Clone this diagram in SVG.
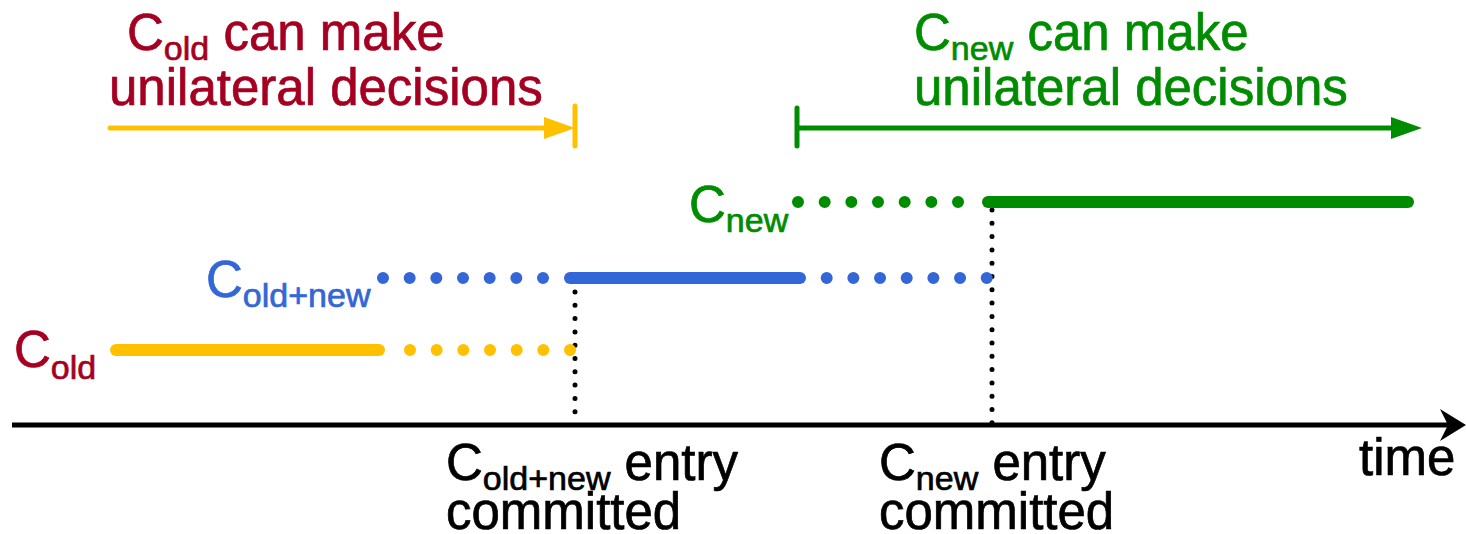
<svg xmlns="http://www.w3.org/2000/svg" width="1466" height="534" viewBox="0 0 1466 534">
<style>
text{font-family:"Liberation Sans",Arial,sans-serif;font-size:51px;stroke-width:0.7}
.sub{font-size:34px}
.red{fill:#A50021;stroke:#A50021}.blu{fill:#3366D6;stroke:#3366D6}.grn{fill:#008C00;stroke:#008C00}.blk{fill:#000;stroke:#000}
.thick{stroke-width:12;stroke-linecap:round;fill:none}
.dots{stroke-width:12;stroke-linecap:round;stroke-dasharray:0 26.67;fill:none}
.vdots{stroke:#000;stroke-width:5;stroke-linecap:round;stroke-dasharray:0 13.3;fill:none}
</style>
<rect width="1466" height="534" fill="#fff"/>
<g id="connectors">
  <line x1="12" y1="425" x2="1450" y2="425" stroke="#000" stroke-width="5"/>
  <path d="M1466,425 L1440,409 L1448,425 L1440,441 Z" fill="#000"/>
  <path class="vdots" d="M575,292 V425"/>
  <path class="vdots" d="M992,210 V425"/>
  <line x1="110" y1="128" x2="548" y2="128" stroke="#FFC000" stroke-width="5" stroke-linecap="round"/>
  <path d="M575,128 L544,117 L544,139 Z" fill="#FFC000"/>
  <line x1="575" y1="106" x2="575" y2="146" stroke="#FFC000" stroke-width="5" stroke-linecap="round"/>
  <line x1="797" y1="128" x2="1395" y2="128" stroke="#008C00" stroke-width="5"/>
  <path d="M1422,128 L1391,117 L1391,139 Z" fill="#008C00"/>
  <line x1="797" y1="108" x2="797" y2="146" stroke="#008C00" stroke-width="5" stroke-linecap="round"/>
</g>
<g id="cold-line">
  <path class="thick" stroke="#FFC000" d="M116,350 H379"/>
  <path class="dots" stroke="#FFC000" d="M410,350 H572"/>
</g>
<g id="coldnew-line">
  <path class="dots" stroke="#3366D6" d="M383,278 H545"/>
  <path class="thick" stroke="#3366D6" d="M570,278 H800"/>
  <path class="dots" stroke="#3366D6" d="M826.7,278 H988"/>
</g>
<g id="cnew-line">
  <path class="dots" stroke="#008C00" d="M798,202 H960"/>
  <path class="thick" stroke="#008C00" d="M988,202 H1408"/>
</g>
<g id="label-cold">
  <text class="red" x="14" y="367">C<tspan class="sub" dy="12">old</tspan></text>
</g>
<g id="label-coldnew">
  <text class="blu" x="206" y="297">C<tspan class="sub" dy="10">old+new</tspan></text>
</g>
<g id="label-cnew">
  <text class="grn" x="689" y="222">C<tspan class="sub" dy="10">new</tspan></text>
</g>
<g id="title-cold">
  <text class="red" x="127" y="50">C<tspan class="sub" dy="10">old</tspan><tspan dy="-10"> can make</tspan></text>
  <text class="red" x="109" y="105">unilateral decisions</text>
</g>
<g id="title-cnew">
  <text class="grn" x="914" y="50">C<tspan class="sub" dy="10">new</tspan><tspan dy="-10"> can make</tspan></text>
  <text class="grn" x="914" y="105">unilateral decisions</text>
</g>
<g id="label-coldnew-committed">
  <text class="blk" x="446" y="480">C<tspan class="sub" dy="10">old+new</tspan><tspan dy="-10"> entry</tspan></text>
  <text class="blk" x="446" y="529">committed</text>
</g>
<g id="label-cnew-committed">
  <text class="blk" x="879" y="480">C<tspan class="sub" dy="10">new</tspan><tspan dy="-10"> entry</tspan></text>
  <text class="blk" x="879" y="529">committed</text>
</g>
<g id="label-time">
  <text class="blk" x="1359" y="475">time</text>
</g>
</svg>
